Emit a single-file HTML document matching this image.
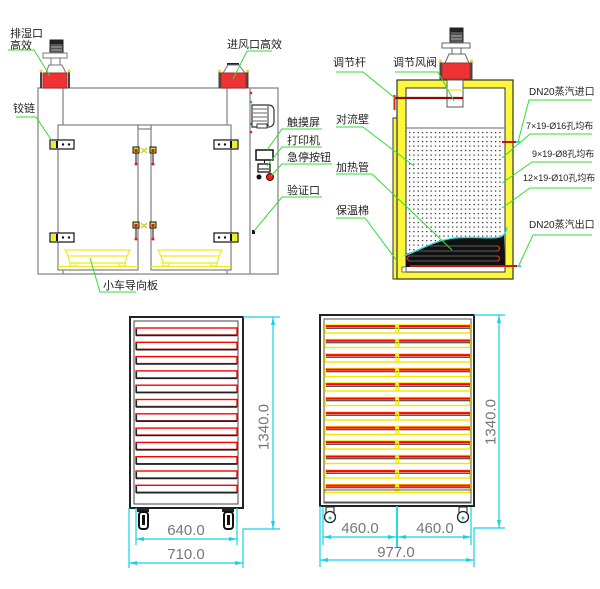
<!DOCTYPE html>
<html><head><meta charset="utf-8">
<style>
html,body{margin:0;padding:0;background:#fff;}
svg{display:block;}
text{font-family:"Liberation Sans","Noto Sans CJK SC",sans-serif;}
</style></head>
<body>
<svg width="600" height="589" viewBox="0 0 600 589" xmlns="http://www.w3.org/2000/svg">
<defs>
<pattern id="dots" x="408" y="131" width="4.3" height="4.5" patternUnits="userSpaceOnUse">
<rect x="1" y="1" width="1.2" height="1.2" fill="#222"/>
</pattern>
<g id="trayL">
<rect x="136" y="0" width="101" height="7" fill="none" stroke="#f00" stroke-width="1.4"/>
<line x1="136" y1="7.4" x2="237" y2="7.4" stroke="#222" stroke-width="1.6"/>
<line x1="136.5" y1="1" x2="136.5" y2="7" stroke="#222" stroke-width="1.2"/>
</g>
<g id="trayR">
<rect x="325" y="0" width="145" height="8" fill="none" stroke="#f2e600" stroke-width="1.4"/>
<line x1="326" y1="1.2" x2="395" y2="1.2" stroke="#f00" stroke-width="2.2"/>
<line x1="399" y1="1.2" x2="470" y2="1.2" stroke="#f00" stroke-width="2.2"/>
<line x1="326" y1="3.2" x2="470" y2="3.2" stroke="#222" stroke-width="1"/>
<line x1="396" y1="0" x2="396" y2="8" stroke="#f2e600" stroke-width="1.2"/>
<line x1="398.5" y1="0" x2="398.5" y2="8" stroke="#f2e600" stroke-width="1.2"/>
</g>
</defs>

<!-- ============ TOP LEFT: cabinet front ============ -->
<g stroke="#888" stroke-width="1.3" fill="none">
<rect x="38" y="88" width="240" height="186" fill="#fff"/>
<line x1="250" y1="88" x2="250" y2="274"/>
<line x1="63" y1="88" x2="63" y2="274"/>
<line x1="227" y1="88" x2="227" y2="274"/>
<rect x="58" y="125" width="80" height="145" fill="#fff"/>
<rect x="151" y="125" width="80" height="145" fill="#fff"/>
<rect x="138" y="125" width="13" height="4" fill="#fff"/>
</g>

<!-- exhaust unit left -->
<rect x="50" y="40" width="13" height="13" fill="#555" stroke="#222" stroke-width="1"/>
<rect x="50" y="40" width="13" height="4" fill="#222"/>
<line x1="51" y1="47" x2="62" y2="47" stroke="#aaa" stroke-width="1"/>
<line x1="51" y1="50" x2="62" y2="50" stroke="#aaa" stroke-width="1"/>
<rect x="43" y="53" width="24" height="5" fill="#fff" stroke="#777" stroke-width="1"/>
<line x1="51" y1="58" x2="51" y2="65" stroke="#777"/>
<line x1="60" y1="58" x2="60" y2="65" stroke="#777"/>
<polygon points="49,65 62,65 66,73 46,73" fill="#fff" stroke="#777" stroke-width="1"/>
<rect x="43" y="73" width="24" height="15" fill="#ee3333" stroke="#933" stroke-width="1"/>
<line x1="41" y1="71" x2="41" y2="88" stroke="#444" stroke-width="2"/>
<line x1="69" y1="71" x2="69" y2="88" stroke="#444" stroke-width="2"/>
<circle cx="41" cy="71" r="1.5" fill="#dd3"/>
<circle cx="69" cy="71" r="1.5" fill="#dd3"/>

<!-- intake unit right -->
<line x1="227" y1="64" x2="239" y2="64" stroke="#222" stroke-width="2"/>
<polygon points="228,65 239,65 245,73 223,73" fill="#fff" stroke="#777" stroke-width="1"/>
<rect x="221" y="73" width="25" height="15" fill="#ee3333" stroke="#933" stroke-width="1"/>
<line x1="219.5" y1="71" x2="219.5" y2="88" stroke="#444" stroke-width="2"/>
<line x1="247.5" y1="71" x2="247.5" y2="88" stroke="#444" stroke-width="2"/>
<circle cx="219.5" cy="71" r="1.5" fill="#dd3"/>
<circle cx="247.5" cy="71" r="1.5" fill="#dd3"/>

<!-- control panel parts -->
<circle cx="251" cy="93" r="1.3" fill="#d22"/>
<circle cx="251" cy="102" r="1.3" fill="#3a3"/>
<circle cx="251" cy="124" r="1.3" fill="#3a3"/>
<circle cx="251" cy="132" r="1.3" fill="#d22"/>
<path d="M252,105 L268,105 Q274,105 274,111 L274,121 Q274,127 268,127 L252,127 Z" fill="#fff" stroke="#333" stroke-width="1.2"/>
<g stroke="#666" stroke-width="1">
<line x1="253" y1="109" x2="267" y2="109"/>
<line x1="253" y1="113" x2="267" y2="113"/>
<line x1="253" y1="117" x2="267" y2="117"/>
<line x1="253" y1="121" x2="267" y2="121"/>
</g>
<line x1="268" y1="106" x2="268" y2="126" stroke="#333"/>
<rect x="257" y="124" width="10" height="4" fill="#fff" stroke="#333" stroke-width="1"/>
<rect x="256" y="150" width="17" height="10" fill="#fff" stroke="#111" stroke-width="1.5"/>
<line x1="264.5" y1="160" x2="264.5" y2="163" stroke="#111"/>
<rect x="258" y="164" width="12" height="8" fill="#fff" stroke="#111" stroke-width="1.3"/>
<line x1="259" y1="169" x2="269" y2="169" stroke="#111"/>
<circle cx="259" cy="177" r="2.5" fill="#111"/>
<circle cx="270" cy="177" r="3.5" fill="#e22" stroke="#400" stroke-width="1"/>
<rect x="252" y="230" width="3" height="4" fill="#111"/>

<!-- hinges -->
<g>
<rect x="50" y="140" width="24" height="9" fill="#fff" stroke="#111" stroke-width="1.2"/>
<rect x="51" y="141" width="5" height="7" fill="#ee2"/>
<rect x="56" y="141" width="2" height="7" fill="#111"/>
<circle cx="63" cy="144.5" r="1.2" fill="#111"/><circle cx="69" cy="144.5" r="1.2" fill="#111"/>
<rect x="50" y="233" width="24" height="9" fill="#fff" stroke="#111" stroke-width="1.2"/>
<rect x="51" y="234" width="5" height="7" fill="#ee2"/>
<rect x="56" y="234" width="2" height="7" fill="#111"/>
<circle cx="63" cy="237.5" r="1.2" fill="#111"/><circle cx="69" cy="237.5" r="1.2" fill="#111"/>
<rect x="214" y="140" width="24" height="9" fill="#fff" stroke="#111" stroke-width="1.2"/>
<rect x="232" y="141" width="5" height="7" fill="#ee2"/>
<rect x="230" y="141" width="2" height="7" fill="#111"/>
<circle cx="219" cy="144.5" r="1.2" fill="#111"/><circle cx="225" cy="144.5" r="1.2" fill="#111"/>
<rect x="214" y="233" width="24" height="9" fill="#fff" stroke="#111" stroke-width="1.2"/>
<rect x="232" y="234" width="5" height="7" fill="#ee2"/>
<rect x="230" y="234" width="2" height="7" fill="#111"/>
<circle cx="219" cy="237.5" r="1.2" fill="#111"/><circle cx="225" cy="237.5" r="1.2" fill="#111"/>
</g>

<!-- latches -->
<g>
<rect x="133" y="147" width="6" height="6" fill="#dd2" stroke="#111" stroke-width="1"/>
<rect x="134.5" y="149" width="3" height="3" fill="#c22"/>
<line x1="136" y1="153" x2="136" y2="164" stroke="#111"/>
<circle cx="136" cy="164" r="1.5" fill="#d22"/>
<rect x="150" y="147" width="6" height="6" fill="#dd2" stroke="#111" stroke-width="1"/>
<rect x="151.5" y="149" width="3" height="3" fill="#c22"/>
<line x1="153" y1="153" x2="153" y2="164" stroke="#111"/>
<circle cx="153" cy="164" r="1.5" fill="#d22"/>
<path d="M141,148 L147,153 M147,148 L141,153" stroke="#cc2" stroke-width="1.3"/>
<rect x="133" y="222" width="6" height="6" fill="#dd2" stroke="#111" stroke-width="1"/>
<rect x="134.5" y="224" width="3" height="3" fill="#c22"/>
<line x1="136" y1="228" x2="136" y2="239" stroke="#111"/>
<circle cx="136" cy="239" r="1.5" fill="#d22"/>
<rect x="150" y="222" width="6" height="6" fill="#dd2" stroke="#111" stroke-width="1"/>
<rect x="151.5" y="224" width="3" height="3" fill="#c22"/>
<line x1="153" y1="228" x2="153" y2="239" stroke="#111"/>
<circle cx="153" cy="239" r="1.5" fill="#d22"/>
<path d="M141,223 L147,228 M147,223 L141,228" stroke="#cc2" stroke-width="1.3"/>
</g>

<!-- cart guide plates -->
<g stroke="#eeea20" stroke-width="1.2" fill="none">
<path d="M65,250 L130,250 L127,256 L68,256 Z"/>
<path d="M68,256 L70,263 L125,263 L127,256"/>
<rect x="70" y="263" width="6" height="3"/>
<rect x="119" y="263" width="6" height="3"/>
<line x1="58" y1="266.5" x2="138" y2="266.5"/>
<path d="M158,250 L222,250 L219,256 L161,256 Z"/>
<path d="M161,256 L163,263 L217,263 L219,256"/>
<rect x="163" y="263" width="6" height="3"/>
<rect x="211" y="263" width="6" height="3"/>
<line x1="151" y1="266.5" x2="231" y2="266.5"/>
</g>

<!-- left labels -->
<g font-size="11" fill="#222">
<text x="10" y="37">排湿口</text>
<text x="10" y="49">高效</text>
<text x="13" y="112">铰链</text>
<text x="227" y="48">进风口高效</text>
<text x="287" y="126">触摸屏</text>
<text x="287" y="144">打印机</text>
<text x="287" y="161">急停按钮</text>
<text x="287" y="194">验证口</text>
<text x="103" y="289">小车导向板</text>
</g>
<g stroke="#3d3" stroke-width="1" fill="none">
<path d="M8,50 L34,50 L50,76"/>
<path d="M16,117 L36,117 L52,141"/>
<path d="M272,51 L247,51 L233,79"/>
<path d="M322,129 L282,129 L267,150"/>
<path d="M322,147 L282,147 L267,166"/>
<path d="M332,164 L282,164 L271,176"/>
<path d="M322,197 L282,197 L254,231"/>
<path d="M136,292 L100,292 L90,258"/>
</g>

<!-- ============ TOP RIGHT: side section ============ -->
<rect x="393" y="118" width="4.5" height="161" fill="#fcf73a" stroke="#333" stroke-width="1"/>
<rect x="397" y="80" width="116" height="199" fill="#fcf73a" stroke="#333" stroke-width="1.2"/>
<rect x="406" y="88" width="99" height="184" fill="#fff" stroke="#333" stroke-width="1"/>
<!-- duct -->
<rect x="447" y="80" width="16" height="27" fill="#fff" stroke="#555" stroke-width="1"/>
<line x1="447" y1="90" x2="463" y2="90" stroke="#eee020" stroke-width="1.2"/>
<!-- red box & fan -->
<rect x="450" y="28" width="13" height="15" fill="#555" stroke="#222" stroke-width="1"/>
<rect x="450" y="28" width="13" height="4" fill="#222"/>
<line x1="451" y1="36" x2="462" y2="36" stroke="#aaa"/>
<line x1="451" y1="39" x2="462" y2="39" stroke="#aaa"/>
<rect x="442" y="43" width="28" height="5" fill="#fff" stroke="#666" stroke-width="1"/>
<line x1="452" y1="48" x2="452" y2="54" stroke="#666"/>
<line x1="461" y1="48" x2="461" y2="54" stroke="#666"/>
<polygon points="449,54 465,54 469,63 445,63" fill="#fff" stroke="#666" stroke-width="1"/>
<rect x="442" y="63" width="28" height="16" fill="#ee3333" stroke="#933" stroke-width="1"/>
<line x1="440.5" y1="61" x2="440.5" y2="80" stroke="#444" stroke-width="2"/>
<line x1="471.5" y1="61" x2="471.5" y2="80" stroke="#444" stroke-width="2"/>
<circle cx="440.5" cy="61" r="1.5" fill="#dd3"/>
<circle cx="471.5" cy="61" r="1.5" fill="#dd3"/>
<!-- adjustment rod -->
<line x1="394" y1="98" x2="463" y2="98" stroke="#8b0a0a" stroke-width="2.2"/>
<line x1="394.5" y1="95" x2="394.5" y2="110" stroke="#d22" stroke-width="2"/>
<!-- perforated wall -->
<line x1="406" y1="128" x2="505" y2="128" stroke="#666" stroke-width="1"/>
<rect x="408" y="131" width="95" height="125" fill="url(#dots)"/>
<!-- heating coil -->
<path d="M406,254 C420,250 435,240 455,238 C478,236 495,240 504,235 L505,267 L406,267 Z" fill="#111"/>
<g stroke="#777" stroke-width="0.8">
<line x1="430" y1="246" x2="497" y2="246"/>
<line x1="414" y1="251" x2="497" y2="251"/>
<line x1="410" y1="256" x2="497" y2="256"/>
<line x1="410" y1="261" x2="497" y2="261"/>
</g>
<path d="M497,246 A2.5,2.5 0 0 1 497,251 M497,256 A2.5,2.5 0 0 1 497,261 M410,256 A2.5,2.5 0 0 0 410,261" stroke="#e22" stroke-width="1.3" fill="none"/>
<path d="M404,256 C420,250 435,240 455,238 C480,236 495,240 502,236 C505,234 506,232 507,227" stroke="#2ce0ee" stroke-width="1.3" fill="none"/>
<rect x="402" y="267" width="4" height="5" fill="#fff" stroke="#555" stroke-width="0.8"/>
<!-- pipes -->
<line x1="502" y1="142" x2="518" y2="142" stroke="#c11" stroke-width="2"/>
<line x1="516" y1="142" x2="520" y2="142" stroke="#2ce0ee" stroke-width="2"/>
<line x1="410" y1="266" x2="519" y2="266" stroke="#c11" stroke-width="2"/>
<line x1="517" y1="266" x2="521" y2="266" stroke="#2ce0ee" stroke-width="2"/>

<!-- right labels -->
<g font-size="11" fill="#222">
<text x="333" y="66">调节杆</text>
<text x="393" y="66">调节风阀</text>
<text x="336" y="123">对流壁</text>
<text x="336" y="171">加热管</text>
<text x="336" y="214">保温棉</text>
</g>
<g font-size="10" fill="#222">
<text x="529" y="95">DN20蒸汽进口</text>
<text x="529" y="228">DN20蒸汽出口</text>
</g>
<g font-size="9" fill="#222">
<text x="526" y="129">7×19-Ø16孔均布</text>
<text x="532" y="157">9×19-Ø8孔均布</text>
<text x="523" y="181">12×19-Ø10孔均布</text>
</g>
<g stroke="#3d3" stroke-width="1" fill="none">
<path d="M336,72 L363,72 L395,98"/>
<path d="M395,72 L438,72 L454,101"/>
<path d="M336,127 L363,127 L414,166"/>
<path d="M336,174 L372,174 L452,250"/>
<path d="M336,218 L365,218 L397,261"/>
<path d="M592,100 L529,100 L518,142"/>
<path d="M592,134 L530,134 L502,158"/>
<path d="M592,162 L532,162 L502,183"/>
<path d="M592,188 L530,188 L502,208"/>
<path d="M592,235 L533,235 L519,265"/>
</g>

<!-- ============ BOTTOM LEFT: cart side ============ -->
<rect x="130" y="317" width="113" height="191" fill="#fff" stroke="#222" stroke-width="2"/>
<rect x="134" y="321" width="104" height="183" fill="none" stroke="#444" stroke-width="1"/>
<use href="#trayL" y="328"/>
<use href="#trayL" y="342.3"/>
<use href="#trayL" y="356.6"/>
<use href="#trayL" y="370.9"/>
<use href="#trayL" y="385.2"/>
<use href="#trayL" y="399.5"/>
<use href="#trayL" y="413.8"/>
<use href="#trayL" y="428.1"/>
<use href="#trayL" y="442.4"/>
<use href="#trayL" y="456.7"/>
<use href="#trayL" y="471"/>
<use href="#trayL" y="485.3"/>
<!-- casters -->
<rect x="137" y="509" width="12" height="3" fill="#222"/>
<rect x="139" y="512" width="9" height="17" rx="3" fill="#fff" stroke="#111" stroke-width="2"/>
<rect x="142" y="515" width="3" height="10" fill="#111"/>
<rect x="222" y="509" width="12" height="3" fill="#222"/>
<rect x="224" y="512" width="9" height="17" rx="3" fill="#fff" stroke="#111" stroke-width="2"/>
<rect x="227" y="515" width="3" height="10" fill="#111"/>
<!-- dimensions -->
<g stroke="#14d2e6" stroke-width="1.2" fill="none">
<line x1="243" y1="317" x2="280" y2="317"/>
<path d="M280,529 L243,529 L243,568"/>
<line x1="273" y1="317" x2="273" y2="529"/>
<line x1="136" y1="508" x2="136" y2="545"/>
<line x1="237" y1="508" x2="237" y2="545"/>
<line x1="136" y1="539" x2="237" y2="539"/>
<line x1="129" y1="508" x2="129" y2="568"/>
<line x1="129" y1="563" x2="243" y2="563"/>
</g>
<g fill="#14d2e6">
<polygon points="273,317 271,325 275,325"/>
<polygon points="273,529 271,521 275,521"/>
<polygon points="136,539 144,537 144,541"/>
<polygon points="237,539 229,537 229,541"/>
<polygon points="129,563 137,561 137,565"/>
<polygon points="243,563 235,561 235,565"/>
</g>
<g font-size="15" fill="#777" text-anchor="middle">
<text x="186" y="535">640.0</text>
<text x="186" y="559">710.0</text>
<text transform="translate(268.5,427) rotate(-90)" x="0" y="0">1340.0</text>
</g>

<!-- ============ BOTTOM RIGHT: cart front ============ -->
<rect x="320" y="315" width="154" height="191" fill="#fff" stroke="#222" stroke-width="2"/>
<rect x="324" y="319" width="147" height="184" fill="none" stroke="#555" stroke-width="1"/>
<use href="#trayR" y="325"/>
<use href="#trayR" y="339.5"/>
<use href="#trayR" y="354"/>
<use href="#trayR" y="368.5"/>
<use href="#trayR" y="383"/>
<use href="#trayR" y="397.5"/>
<use href="#trayR" y="412"/>
<use href="#trayR" y="426.5"/>
<use href="#trayR" y="441"/>
<use href="#trayR" y="455.5"/>
<use href="#trayR" y="470"/>
<use href="#trayR" y="484.5"/>
<rect x="324" y="490" width="147" height="12" fill="none" stroke="#555" stroke-width="1"/>
<!-- casters -->
<rect x="326" y="507" width="8" height="8" fill="#fff" stroke="#222" stroke-width="1"/>
<circle cx="330" cy="517" r="5.5" fill="#fff" stroke="#222" stroke-width="1.3"/>
<circle cx="330" cy="518" r="1.5" fill="#2bb"/>
<rect x="459" y="507" width="8" height="8" fill="#fff" stroke="#222" stroke-width="1"/>
<circle cx="463" cy="517" r="5.5" fill="#fff" stroke="#222" stroke-width="1.3"/>
<circle cx="463" cy="518" r="1.5" fill="#2bb"/>
<!-- dimensions -->
<g stroke="#14d2e6" stroke-width="1.2" fill="none">
<line x1="474" y1="315" x2="505" y2="315"/>
<path d="M505,528 L474,528 L474,567"/>
<line x1="499" y1="315" x2="499" y2="528"/>
<line x1="323" y1="507" x2="323" y2="545"/>
<line x1="471" y1="507" x2="471" y2="545"/>
<line x1="397" y1="506" x2="397" y2="547" stroke-width="1.8"/>
<line x1="323" y1="537" x2="471" y2="537"/>
<line x1="320" y1="506" x2="320" y2="567"/>
<line x1="320" y1="560" x2="474" y2="560"/>
</g>
<g fill="#14d2e6">
<polygon points="499,315 497,323 501,323"/>
<polygon points="499,528 497,520 501,520"/>
<polygon points="323,537 331,535 331,539"/>
<polygon points="396,537 388,535 388,539"/>
<polygon points="398,537 406,535 406,539"/>
<polygon points="471,537 463,535 463,539"/>
<polygon points="320,560 328,558 328,562"/>
<polygon points="474,560 466,558 466,562"/>
</g>
<g font-size="15" fill="#777" text-anchor="middle">
<text x="360" y="533">460.0</text>
<text x="435" y="533">460.0</text>
<text x="396" y="557">977.0</text>
<text transform="translate(495.5,422) rotate(-90)" x="0" y="0">1340.0</text>
</g>
</svg>
</body></html>
